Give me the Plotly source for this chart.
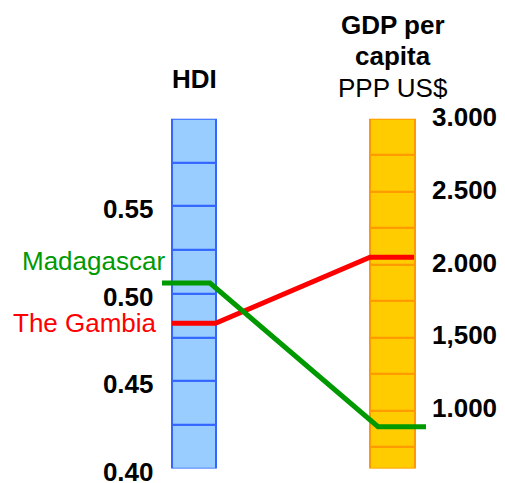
import numpy as np
import plotly.graph_objects as go

# ---- data ----
countries = ["The Gambia", "Madagascar"]
hdi_values = [0.483, 0.506]
gdp_values = [2050, 887]
line_colors = ["#FF0000", "#009900"]

hdi_ticks = [0.40, 0.45, 0.50, 0.55]
hdi_ticktext = ["0.40", "0.45", "0.50", "0.55"]
gdp_ticks = [1000, 1500, 2000, 2500, 3000]
gdp_ticktext = ["1.000", "1,500", "2.000", "2.500", "3.000"]

# ---- scales / layout constants ----
PAGE_W, PAGE_H = 505, 483
OFF = 8  # default page body margin
W, H = PAGE_W - OFF, PAGE_H - OFF
HDI_RANGE = (0.40, 0.60)
GDP_RANGE = (600, 3000)
HDI_CELL = 0.025
GDP_CELL = 250
TOP_PX, BOT_PX = 118.7, 468.5
FONT = "Liberation Sans, Arial, sans-serif"

HDI_X, HDI_W = 194, 44
GDP_X, GDP_W = 392.5, 45

# line geometry (x in page pixel units): start, bend1, bend2, end
line_x = {
    "The Gambia": [172, 215.5, 370, 414],
    "Madagascar": [162, 210, 378, 426],
}
label_pos = {  # right edge x, y center (page px)
    "The Gambia": (159, 323),
    "Madagascar": (166.5, 261),
}


def px(p):
    return (p - OFF) / W


def py(p):
    return 1 - (p - OFF) / H


def hdi_to_gdp(h):
    return GDP_RANGE[0] + (h - HDI_RANGE[0]) / (HDI_RANGE[1] - HDI_RANGE[0]) * (GDP_RANGE[1] - GDP_RANGE[0])


fig = go.Figure()

# HDI bar made of cells
hdi_bases = np.arange(HDI_RANGE[0], HDI_RANGE[1] - 1e-9, HDI_CELL)
fig.add_trace(go.Bar(
    x=[HDI_X] * len(hdi_bases), y=[HDI_CELL] * len(hdi_bases), base=hdi_bases,
    width=HDI_W, marker=dict(color="#99CCFF", line=dict(color="#3366FF", width=2)),
    xaxis="x", yaxis="y", showlegend=False, hoverinfo="skip",
))

# GDP bar made of cells
gdp_edges = [GDP_RANGE[0]] + list(np.arange(750, GDP_RANGE[1] + 1, GDP_CELL))
gdp_bases = gdp_edges[:-1]
gdp_heights = list(np.diff(gdp_edges))
fig.add_trace(go.Bar(
    x=[GDP_X] * len(gdp_bases), y=gdp_heights, base=gdp_bases,
    width=GDP_W, marker=dict(color="#FFCC00", line=dict(color="#FF9900", width=2)),
    xaxis="x", yaxis="y2", showlegend=False, hoverinfo="skip",
))

# connecting lines (drawn on the top/overlay axis so they sit above both bars)
for name, hv, gv, col in zip(countries, hdi_values, gdp_values, line_colors):
    hy = hdi_to_gdp(hv)
    fig.add_trace(go.Scatter(
        x=line_x[name], y=[hy, hy, gv, gv], mode="lines",
        line=dict(color=col, width=5), xaxis="x", yaxis="y2",
        showlegend=False, hoverinfo="skip", cliponaxis=False,
    ))

annotations = []
for name, col in zip(countries, line_colors):
    xr, yc = label_pos[name]
    annotations.append(dict(
        x=px(xr), y=py(yc), xref="paper", yref="paper", text=name, showarrow=False,
        xanchor="right", yanchor="middle", font=dict(family=FONT, size=26, color=col),
    ))

annotations += [
    dict(x=px(194.3), y=py(79), xref="paper", yref="paper", text="<b>HDI</b>", showarrow=False,
         xanchor="center", yanchor="middle", font=dict(family=FONT, size=26, color="black")),
    dict(x=px(393), y=py(25), xref="paper", yref="paper", text="<b>GDP per</b>", showarrow=False,
         xanchor="center", yanchor="middle", font=dict(family=FONT, size=26, color="black")),
    dict(x=px(393), y=py(56), xref="paper", yref="paper", text="<b>capita</b>", showarrow=False,
         xanchor="center", yanchor="middle", font=dict(family=FONT, size=26, color="black")),
    dict(x=px(393), y=py(88), xref="paper", yref="paper", text="PPP US$", showarrow=False,
         xanchor="center", yanchor="middle", font=dict(family=FONT, size=26, color="black")),
]

domain = [py(BOT_PX), py(TOP_PX)]
fig.update_layout(
    template="none",
    width=W, height=H,
    margin=dict(l=0, r=0, t=0, b=0),
    paper_bgcolor="white", plot_bgcolor="rgba(0,0,0,0)",
    barmode="overlay", bargap=0,
    showlegend=False,
    xaxis=dict(range=[OFF, PAGE_W], domain=[0, 1], visible=False, fixedrange=True),
    yaxis=dict(
        range=list(HDI_RANGE), domain=domain, anchor="free", position=px(153.5),
        tickvals=hdi_ticks, ticktext=hdi_ticktext, ticks="", showgrid=False,
        zeroline=False, showline=False, ticklabelshift=3, ticklabeloverflow="allow",
        tickfont=dict(family=FONT, size=26, color="black", weight="bold"),
    ),
    yaxis2=dict(
        range=list(GDP_RANGE), domain=domain, anchor="free", position=px(431),
        overlaying="y", side="right",
        tickvals=gdp_ticks, ticktext=gdp_ticktext, ticks="", showgrid=False,
        zeroline=False, showline=False, ticklabelshift=-2, ticklabeloverflow="allow",
        tickfont=dict(family=FONT, size=26, color="black", weight="bold"),
    ),
    annotations=annotations,
)

fig.write_html("out.html")
